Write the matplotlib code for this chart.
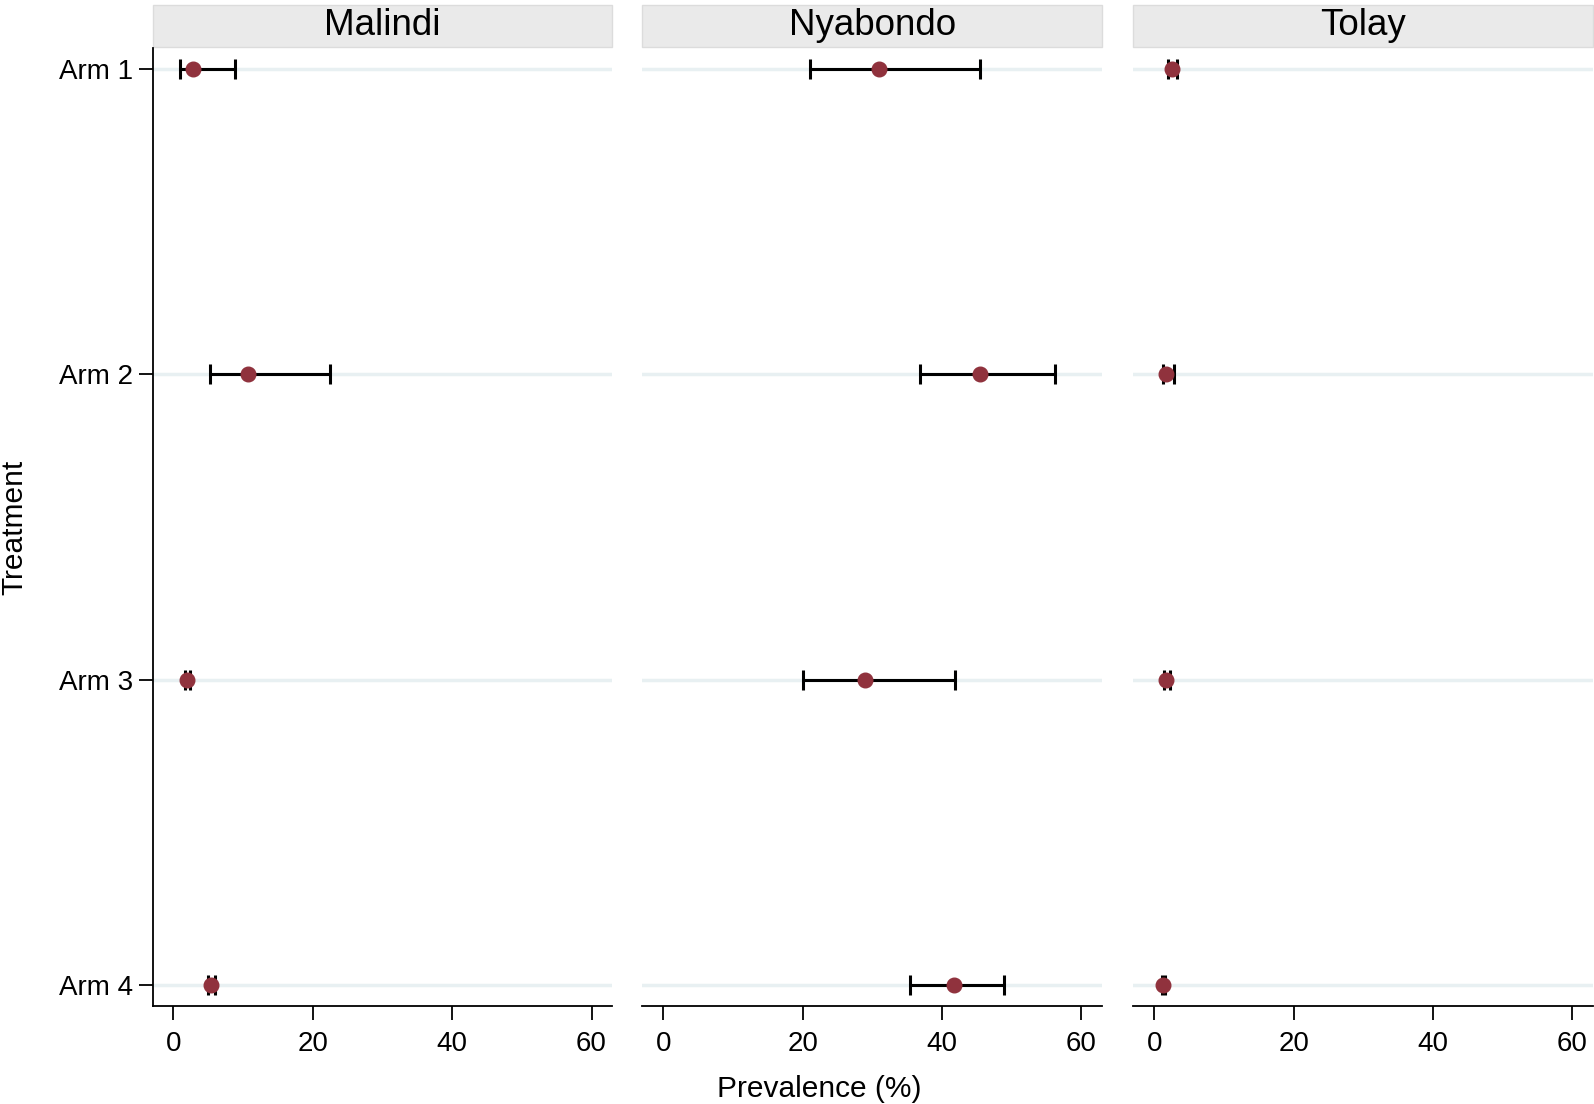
import numpy as np
import matplotlib
matplotlib.use("Agg")
import matplotlib.pyplot as plt
from matplotlib.patches import Rectangle

plt.rcParams['font.family'] = ['Liberation Sans', 'DejaVu Sans']

sites = ['Malindi', 'Nyabondo', 'Tolay']
arms = ['Arm 1', 'Arm 2', 'Arm 3', 'Arm 4']

# prevalence (%) and 95% CI per site, Arm 1..4
prev = {
    'Malindi':  [2.8, 10.7, 1.9, 5.4],
    'Nyabondo': [31.0, 45.4, 29.0, 41.7],
    'Tolay':    [2.5, 1.7, 1.7, 1.3],
}
lo = {
    'Malindi':  [0.9, 5.3, 1.7, 5.0],
    'Nyabondo': [21.1, 36.8, 20.1, 35.4],
    'Tolay':    [2.0, 1.2, 1.4, 1.1],
}
hi = {
    'Malindi':  [8.8, 22.5, 2.4, 6.0],
    'Nyabondo': [45.4, 56.2, 41.8, 48.9],
    'Tolay':    [3.2, 2.9, 2.3, 1.5],
}
xticks = [0, 20, 40, 60]

fig = plt.figure(figsize=(15.94, 11.04), dpi=100)
lefts = [0.0957, 0.403, 0.711]
width = 0.2885
bottom, top = 0.0884, 0.9567

ypos = np.arange(1, len(arms) + 1)
for i, site in enumerate(sites):
    ax = fig.add_axes([lefts[i], bottom, width, top - bottom])
    p = np.array(prev[site])
    l = np.array(lo[site])
    h = np.array(hi[site])
    for y in ypos:
        ax.axhline(y, color='#e8f0f2', lw=2.5, zorder=0)
    ax.errorbar(p, ypos, xerr=[p - l, h - p], fmt='none', ecolor='black',
                elinewidth=2.2, capsize=7, capthick=2.2, zorder=2)
    ax.plot(p, ypos, 'o', color='#90323d', markersize=10.5, zorder=3)
    ax.set_xlim(-3, 63)
    ax.set_ylim(4.07, 0.93)
    ax.set_xticks(xticks)
    ax.tick_params(axis='x', length=10, width=1.3, labelsize=20, pad=8)
    for s in ['top', 'right']:
        ax.spines[s].set_visible(False)
    ax.spines['bottom'].set_linewidth(1.3)
    if i == 0:
        ax.set_yticks(ypos)
        ax.set_yticklabels(arms)
        ax.tick_params(axis='y', length=10, width=1.3, labelsize=20, pad=4)
        ax.spines['left'].set_linewidth(1.3)
    else:
        ax.set_yticks([])
        ax.spines['left'].set_visible(False)
    # facet header
    ax.add_patch(Rectangle((0, 1.001), 1, 0.0435, transform=ax.transAxes,
                           facecolor='#eaeaea', edgecolor='#dcdcdc', lw=1,
                           clip_on=False))
    ax.text(0.5, 1.023, site, transform=ax.transAxes, ha='center',
            va='center', fontsize=26.5)

fig.text(0.514, 0.014, 'Prevalence (%)', ha='center', va='center', fontsize=21.5)
fig.text(0.009, 0.522, 'Treatment', ha='center', va='center', rotation=90,
         fontsize=21.5)

fig.savefig('out.png', dpi=100)
